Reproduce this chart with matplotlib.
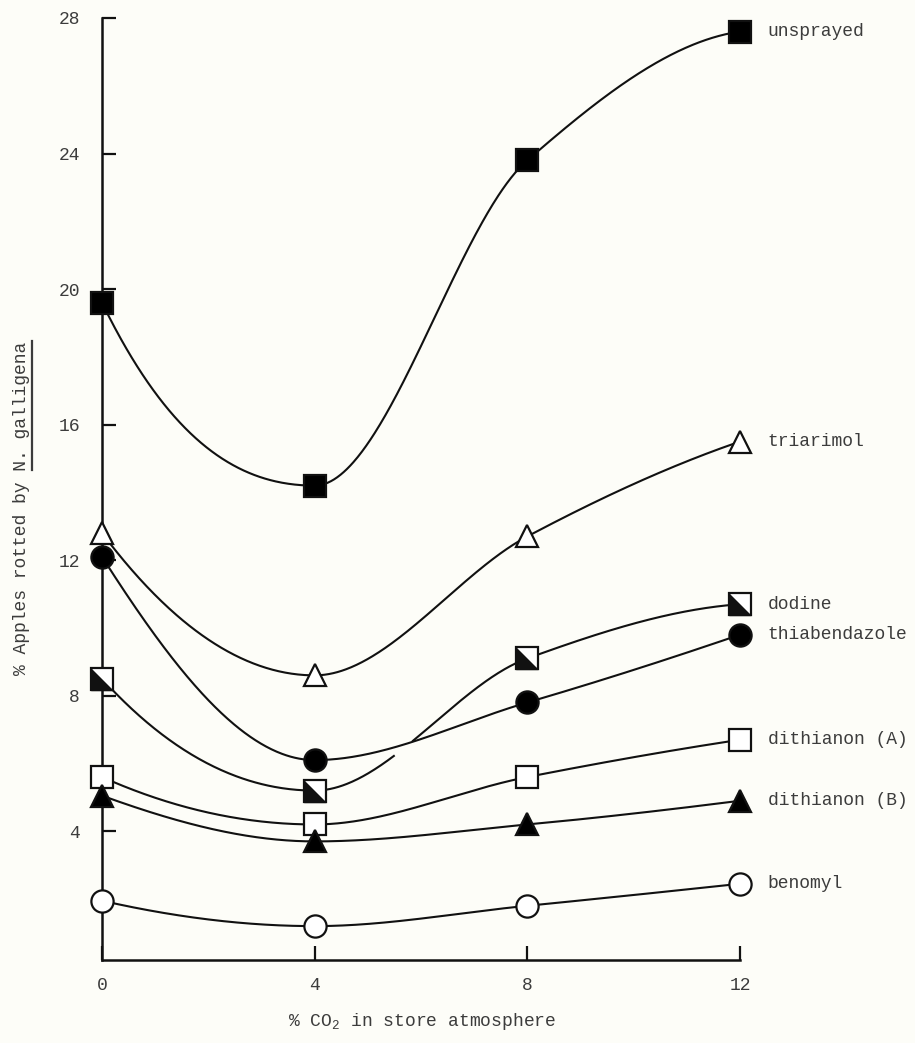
import numpy as np
import matplotlib
matplotlib.use('Agg')
import matplotlib.pyplot as plt
from matplotlib.lines import Line2D

plt.rcParams['font.family'] = ['Liberation Mono', 'DejaVu Sans Mono']
plt.rcParams['mathtext.fontset'] = 'custom'
plt.rcParams['mathtext.rm'] = 'Liberation Mono'
plt.rcParams['mathtext.it'] = 'Liberation Mono'

# % CO2 in store atmosphere
CO2 = [0, 4, 8, 12]

# % apples rotted
UNSPRAYED = [19.6, 14.2, 23.8, 27.6]
TRIARIMOL = [12.8, 8.6, 12.7, 15.5]
DODINE = [8.5, 5.2, 9.1, 10.7]
THIABENDAZOLE = [12.1, 6.1, 7.8, 9.8]
DITHIANON_A = [5.6, 4.2, 5.6, 6.7]
DITHIANON_B = [5.05, 3.7, 4.2, 4.9]
BENOMYL = [1.95, 1.2, 1.8, 2.45]

LABELS = ['unsprayed', 'triarimol', 'dodine', 'thiabendazole',
          'dithianon (A)', 'dithianon (B)', 'benomyl']
VALUES = [UNSPRAYED, TRIARIMOL, DODINE, THIABENDAZOLE,
          DITHIANON_A, DITHIANON_B, BENOMYL]

# marker, face colour
STYLES = {
    'unsprayed': ('s', 'black'),
    'triarimol': ('^', 'white'),
    'dodine': ('half', 'white'),
    'thiabendazole': ('o', 'black'),
    'dithianon (A)': ('s', 'white'),
    'dithianon (B)': ('^', 'black'),
    'benomyl': ('o', 'white'),
}

INK = '#111111'
TEXT = '#3c3c3c'
BG = '#fdfdf8'
MS = 16


def pchip(x, y, xs):
    x = np.asarray(x, float)
    y = np.asarray(y, float)
    h = np.diff(x)
    d = np.diff(y) / h
    n = len(x)
    m = np.zeros(n)
    for k in range(1, n - 1):
        if d[k - 1] * d[k] > 0:
            w1 = 2 * h[k] + h[k - 1]
            w2 = h[k] + 2 * h[k - 1]
            m[k] = (w1 + w2) / (w1 / d[k - 1] + w2 / d[k])

    def end(h0, h1, d0, d1):
        s = ((2 * h0 + h1) * d0 - h0 * d1) / (h0 + h1)
        if np.sign(s) != np.sign(d0):
            return 0.0
        if np.sign(d0) != np.sign(d1) and abs(s) > abs(3 * d0):
            return 3 * d0
        return s

    m[0] = end(h[0], h[1], d[0], d[1])
    m[-1] = end(h[-1], h[-2], d[-1], d[-2])

    idx = np.clip(np.searchsorted(x, xs) - 1, 0, n - 2)
    t = (xs - x[idx]) / h[idx]
    h00 = 2 * t**3 - 3 * t**2 + 1
    h10 = t**3 - 2 * t**2 + t
    h01 = -2 * t**3 + 3 * t**2
    h11 = t**3 - t**2
    return (h00 * y[idx] + h10 * h[idx] * m[idx]
            + h01 * y[idx + 1] + h11 * h[idx] * m[idx + 1])


fig = plt.figure(figsize=(9.15, 10.43), dpi=100, facecolor=BG)
ax = fig.add_axes([102 / 915, 83 / 1043, 638 / 915, 942 / 1043])
ax.set_facecolor(BG)

xs = np.linspace(CO2[0], CO2[-1], 600)
curves = {label: pchip(CO2, vals, xs) for label, vals in zip(LABELS, VALUES)}

# dodine's curve is broken where it crosses thiabendazole (between 4 and 8)
diff = curves['dodine'] - curves['thiabendazole']
mid = (xs > 4.2) & (xs < 7.8)
cross = xs[mid][np.argmin(np.abs(diff[mid]))]
gap = (xs > cross - 0.32) & (xs < cross + 0.03)
curves['dodine'] = np.where(gap, np.nan, curves['dodine'])

for label, vals in zip(LABELS, VALUES):
    ax.plot(xs, curves[label], color=INK, lw=1.5, zorder=2, clip_on=False)

    marker, face = STYLES[label]
    if marker == 'half':
        ax.plot(CO2, vals, ls='none', marker='s', ms=MS, mfc='white',
                mec=INK, mew=1.6, zorder=3, clip_on=False)
        ax.plot(CO2, vals, ls='none', marker=[(-1, 1), (-1, -1), (1, -1)],
                ms=MS, mfc=INK, mec=INK, mew=1.0, zorder=4, clip_on=False)
    else:
        ax.plot(CO2, vals, ls='none', marker=marker, ms=MS, mfc=face,
                mec=INK, mew=1.6, zorder=3, clip_on=False)

    ax.text(CO2[-1] + 0.52, vals[-1], label, ha='left', va='center',
            fontsize=13, color=TEXT, clip_on=False)

ax.set_xlim(0, 12)
ax.set_ylim(0.2, 28)
ax.set_xticks(CO2)
ax.set_yticks(range(4, 29, 4))
ax.tick_params(direction='in', length=10, width=1.6, color=INK,
               labelsize=13, labelcolor=TEXT)
ax.tick_params(axis='y', pad=16)
ax.tick_params(axis='x', pad=12)
for side in ['top', 'right']:
    ax.spines[side].set_visible(False)
for side in ['left', 'bottom']:
    ax.spines[side].set_linewidth(1.8)
    ax.spines[side].set_color(INK)

fig.text(422 / 915, 22 / 1043, '% CO$_2$ in store atmosphere',
         ha='center', va='center', fontsize=13, color=TEXT)

prefix = '% Apples rotted by '
ylab_text = prefix + 'N. galligena'
ylab = fig.text(22 / 915, 1 - 508 / 1043, ylab_text, rotation=90,
                ha='center', va='center', fontsize=13, color=TEXT)

# underline the species name
fig.canvas.draw()
bb = ylab.get_window_extent(fig.canvas.get_renderer())
y_start = bb.y0 + bb.height * len(prefix) / len(ylab_text)
x_line = bb.x1 + 1
fig.add_artist(Line2D([x_line / fig.bbox.width] * 2,
                      [y_start / fig.bbox.height, bb.y1 / fig.bbox.height],
                      color=TEXT, lw=1.6, transform=fig.transFigure))

fig.savefig('out.png', dpi=100, facecolor=BG)
